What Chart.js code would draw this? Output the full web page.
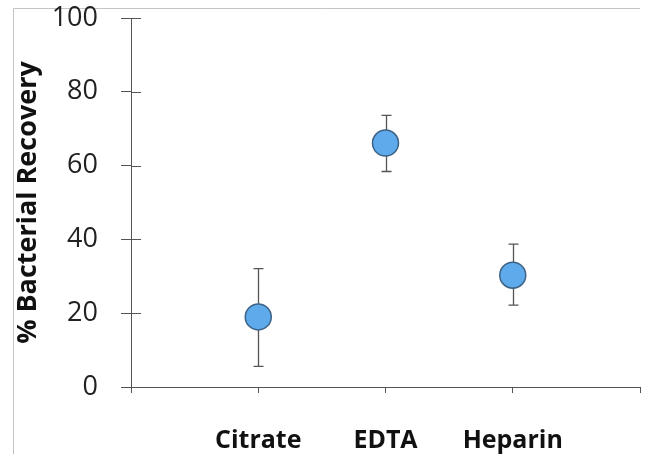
<!DOCTYPE html>
<html>
<head>
<meta charset="utf-8">
<script src="https://cdn.jsdelivr.net/npm/chart.js@4.4.1/dist/chart.umd.min.js"></script>
<style>
    html, body { margin: 0; padding: 0; background: #fff; }
    #wrap { width: 649px; height: 454px; }
</style>
</head>
<body>
<div id="wrap"><canvas id="chart" width="649" height="454"></canvas></div>
<script>
const categories = ["Citrate", "EDTA", "Heparin"];
const xPositions = [1, 2, 3];
const recovery = [19.0, 66.1, 30.3];
const errLow = [5.6, 58.4, 22.2];
const errHigh = [32.1, 73.6, 38.7];
const yTicks = [0, 20, 40, 60, 80, 100];

const points = xPositions.map((x, i) => ({ x: x, y: recovery[i] }));

// light grey frame round the picture (top and left only)
const framePlugin = {
    id: "frame",
    beforeDraw(chart) {
        const c = chart.ctx;
        c.save();
        c.strokeStyle = "#c4c4c4";
        c.lineWidth = 1;
        c.beginPath();
        c.moveTo(13.5, 454);
        c.lineTo(13.5, 8.5);
        c.lineTo(640, 8.5);
        c.stroke();
        c.restore();
    }
};

// error bars behind the markers
const errorBars = {
    id: "errorBars",
    beforeDatasetsDraw(chart) {
        const c = chart.ctx;
        const xs = chart.scales.x;
        const ys = chart.scales.y;
        c.save();
        c.strokeStyle = "#555";
        c.lineWidth = 1.3;
        xPositions.forEach((x, i) => {
            const px = Math.round(xs.getPixelForValue(x)) + 0.5;
            const top = ys.getPixelForValue(errHigh[i]);
            const bot = ys.getPixelForValue(errLow[i]);
            c.beginPath();
            c.moveTo(px, top);
            c.lineTo(px, bot);
            c.moveTo(px - 5, top);
            c.lineTo(px + 5, top);
            c.moveTo(px - 5, bot);
            c.lineTo(px + 5, bot);
            c.stroke();
        });
        c.restore();
    },
    // y ticks cross the axis, so draw the inner half too
    afterDraw(chart) {
        const c = chart.ctx;
        const ys = chart.scales.y;
        const left = chart.chartArea.left;
        c.save();
        c.strokeStyle = "#555";
        c.lineWidth = 1;
        yTicks.forEach(v => {
            const py = Math.round(ys.getPixelForValue(v)) + 0.5;
            c.beginPath();
            c.moveTo(left, py);
            c.lineTo(left + 10, py);
            c.stroke();
        });
        c.restore();
    }
};

const ctx = document.getElementById("chart");

new Chart(ctx, {
    type: "scatter",
    data: {
        datasets: [
            {
                data: points,
                pointRadius: 13,
                pointHoverRadius: 13,
                pointBackgroundColor: "#5eaaea",
                pointBorderColor: "#3e6387",
                pointBorderWidth: 1.5,
            },
        ],
    },
    options: {
        responsive: false,
        animation: false,
        layout: { autoPadding: false, padding: { top: 18, right: 9, left: 0, bottom: 0 } },
        plugins: {
            legend: { display: false },
            tooltip: { enabled: false },
        },
        scales: {
            x: {
                type: "linear",
                min: 0,
                max: 4,
                border: { color: "#555", width: 1 },
                grid: { drawOnChartArea: false, tickLength: 6, color: "#555" },
                afterFit: function (axis) {
                    axis.height = 67;
                    axis.paddingLeft = 0;
                    axis.paddingRight = 0;
                },
                ticks: {
                    stepSize: 1,
                    autoSkip: false,
                    maxRotation: 0,
                    padding: 33,
                    color: "#111",
                    font: { family: "Open Sans", size: 25, weight: "bold" },
                    callback: function (value) {
                        const i = xPositions.indexOf(value);
                        return i >= 0 ? categories[i] : "";
                    },
                },
            },
            y: {
                min: 0,
                max: 100,
                border: { color: "#555", width: 1 },
                grid: { drawOnChartArea: false, tickLength: 10, color: "#555" },
                afterFit: function (axis) {
                    axis.width = 131;
                    axis.paddingTop = 0;
                    axis.paddingBottom = 0;
                },
                ticks: {
                    stepSize: 20,
                    padding: 23,
                    color: "#222",
                    font: { family: "Open Sans", size: 27 },
                },
                title: {
                    display: true,
                    text: "% Bacterial Recovery",
                    color: "#111",
                    padding: { top: 12, bottom: 0 },
                    font: { family: "Open Sans", size: 27, weight: "bold" },
                },
            },
        },
    },
    plugins: [framePlugin, errorBars],
});
</script>
</body>
</html>
